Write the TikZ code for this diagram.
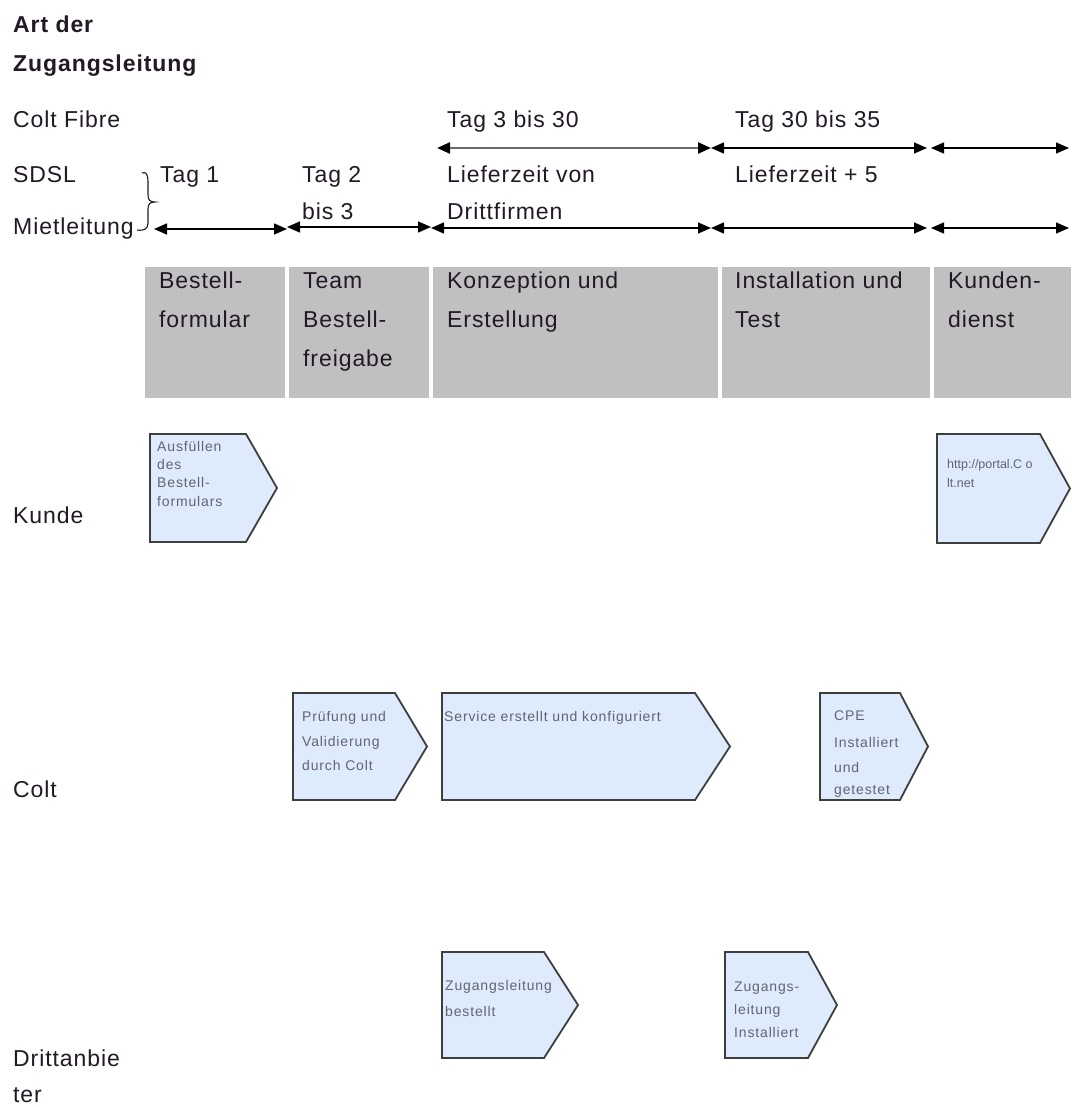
\documentclass[tikz,border=0pt]{standalone}
\usepackage{fontspec}
\setmainfont{Liberation Sans}[LetterSpace=4]
\usetikzlibrary{arrows.meta}
\definecolor{txt}{RGB}{35,24,38}
\definecolor{boxgray}{RGB}{192,192,192}
\definecolor{chevfill}{RGB}{221,235,252}
\definecolor{chevline}{RGB}{62,62,62}
\definecolor{smalltxt}{RGB}{100,100,112}
\definecolor{spangray}{RGB}{105,105,105}
\tikzset{
  big/.style={anchor=base west, inner sep=0pt, text=txt, font=\fontsize{23}{27}\selectfont},
  ttl/.style={anchor=base west, inner sep=0pt, text=txt, font=\fontsize{23}{27}\selectfont\bfseries},
  small/.style={anchor=base west, inner sep=0pt, text=smalltxt, font=\fontsize{14}{16}\selectfont\addfontfeature{LetterSpace=6}},
  tiny/.style={anchor=base west, inner sep=0pt, text=smalltxt, font=\fontsize{12.5}{15}\selectfont\addfontfeature{LetterSpace=0}},
  hdr/.style={fill=boxgray, draw=none},
  chev/.style={fill=chevfill, draw=chevline, line width=1.8pt, line join=miter},
  span/.style={{Triangle[length=13pt,width=11pt,color=black]}-{Triangle[length=13pt,width=11pt,color=black]}, line width=1.4pt, draw=black},
}
\newcommand\mychevron[5]{% left, top, right, tip, bottom
  \draw[chev] (#1,#2) -- (#3,#2) -- (#4,{(#2+#5)/2}) -- (#3,#5) -- (#1,#5) -- cycle;
}
\begin{document}
\begin{tikzpicture}[x=1pt,y=-1pt]
\useasboundingbox (0,0) rectangle (1071,1107);
\fill[white] (0,0) rectangle (1071,1107);

% title and access types
\node[ttl] (t1) at (13,33) {Art der};
\node[ttl] (t2) at (13,72) {Zugangsleitung};
\node[big] (cf) at (13,128) {Colt Fibre};
\node[big] (sd) at (13,183) {SDSL};
\node[big] (ml) at (13,235) {Mietleitung};

% brace
\draw[line width=1.1pt, txt] (142,173) .. controls (146,171) and (148,175) .. (148,181) -- (148,195)
  .. controls (148,200) and (150,202) .. (155,202)
  .. controls (150,202) and (148,204) .. (148,209) -- (148,223)
  .. controls (148,229) and (144,231) .. (137,230);

% time labels
\node[big] (tag1) at (160,183) {Tag 1};
\node[big] (tag2) at (302,183) {Tag 2};
\node[big] (bis3) at (302,220) {bis 3};
\node[big] (tag3) at (447,128) {Tag 3 bis 30};
\node[big] (lv) at (447,183) {Lieferzeit von};
\node[big] (df) at (447,220) {Drittfirmen};
\node[big] (tag30) at (735,128) {Tag 30 bis 35};
\node[big] (lz5) at (735,183) {Lieferzeit + 5};

% span arrows
\coordinate (a1) at (437,148);
\coordinate (a2) at (711,148);
\coordinate (a3) at (927,148);
\coordinate (a4) at (931,148);
\coordinate (a5) at (1069,148);
\draw[span, draw=spangray, line width=2.4pt] (a1) -- (a2);
\draw[span] (a2) -- (a3);
\draw[span] (a4) -- (a5);

\coordinate (b0) at (154,229);
\coordinate (b1) at (287,229);
\coordinate (b1u) at (287,227);
\coordinate (b2u) at (431,227);
\coordinate (b2) at (431,228);
\coordinate (b3) at (711,228);
\coordinate (b4) at (927,228);
\coordinate (b5) at (931,228);
\coordinate (b6) at (1069,228);
\draw[span] (b0) -- (b1);
\draw[span] (b1u) -- (b2u);
\draw[span] (b2) -- (b3);
\draw[span] (b3) -- (b4);
\draw[span] (b5) -- (b6);

% phase header boxes
\fill[hdr] (145,267) rectangle (285,398);
\fill[hdr] (289,267) rectangle (429,398);
\fill[hdr] (433,267) rectangle (718,398);
\fill[hdr] (722,267) rectangle (930,398);
\fill[hdr] (934,267) rectangle (1071,398);

\node[big] (h1a) at (159,288) {Bestell-};
\node[big] (h1b) at (159,327) {formular};
\node[big] (h2a) at (303,288) {Team};
\node[big] (h2b) at (303,327) {Bestell-};
\node[big] (h2c) at (303,366) {freigabe};
\node[big] (h3a) at (447,288) {Konzeption und};
\node[big] (h3b) at (447,327) {Erstellung};
\node[big] (h4a) at (735,288) {Installation und};
\node[big] (h4b) at (735,327) {Test};
\node[big] (h5a) at (948,288) {Kunden-};
\node[big] (h5b) at (948,327) {dienst};

% lane labels
\node[big] (kunde) at (13,523) {Kunde};
\node[big] (colt) at (13,797) {Colt};
\node[big] (dr1) at (13,1066) {Drittanbie};
\node[big] (dr2) at (13,1102) {ter};

% Kunde lane
\mychevron{150}{434}{246}{277}{542}
\node[small] (k1a) at (157,451) {Ausfüllen};
\node[small] (k1b) at (157,469) {des};
\node[small] (k1c) at (157,487) {Bestell-};
\node[small] (k1d) at (157,506) {formulars};

\mychevron{937}{434}{1040}{1070}{543}
\node[tiny] (k2a) at (947,468) {http://portal.C o};
\node[tiny] (k2b) at (947,487) {lt.net};

% Colt lane
\mychevron{293}{693}{395}{427}{800}
\node[small] (c1a) at (302,721) {Prüfung  und};
\node[small] (c1b) at (302,746) {Validierung};
\node[small] (c1c) at (302,770) {durch Colt};

\mychevron{442}{693}{695}{730}{800}
\node[small] (c2a) at (444,721) {Service erstellt und konfiguriert};

\mychevron{820}{693}{900}{928}{800}
\node[small] (c3a) at (834,720) {CPE};
\node[small] (c3b) at (834,747) {Installiert};
\node[small] (c3c) at (834,772) {und};
\node[small] (c3d) at (834,794) {getestet};

% Drittanbieter lane
\mychevron{442}{952}{544}{578}{1058}
\node[small] (d1a) at (445,990) {Zugangsleitung};
\node[small] (d1b) at (445,1016) {bestellt};

\mychevron{725}{952}{808}{837}{1058}
\node[small] (d2a) at (734,991) {Zugangs-};
\node[small] (d2b) at (734,1014) {leitung};
\node[small] (d2c) at (734,1037) {Installiert};
\end{tikzpicture}
\end{document}
